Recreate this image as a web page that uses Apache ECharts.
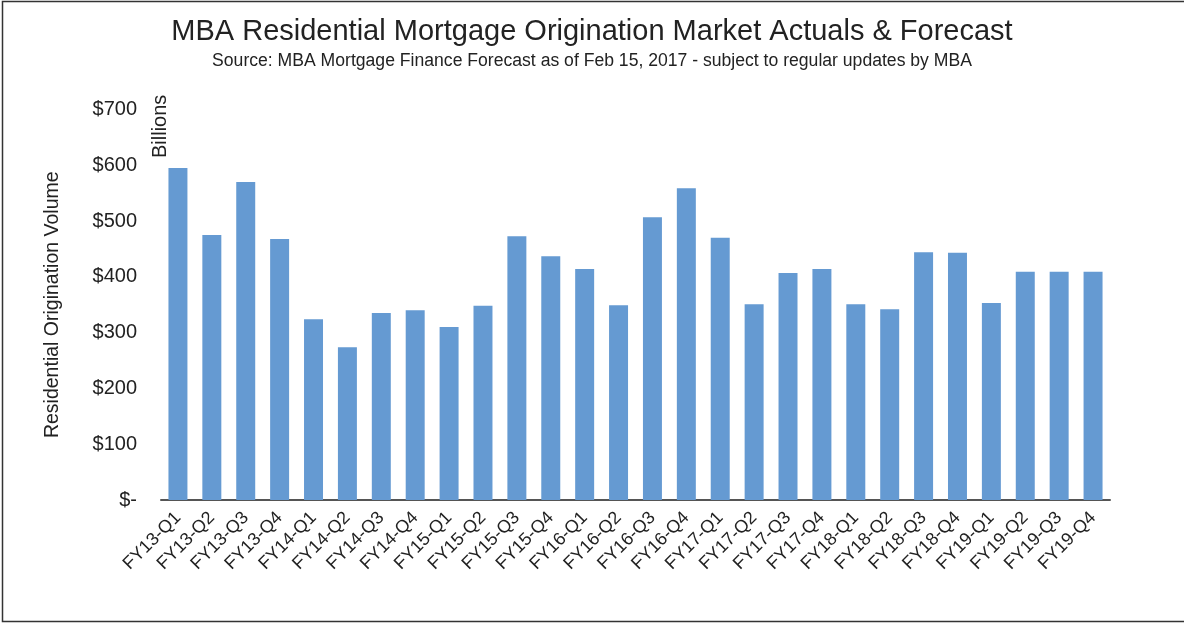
<!DOCTYPE html>
<html><head><meta charset="utf-8">
<script src="https://cdn.jsdelivr.net/npm/echarts@6/dist/echarts.min.js"></script>
<style>html,body{margin:0;padding:0;background:#fff}#c{width:1184px;height:624px}</style>
</head><body><div id="c"></div>
<script>
const categories = ['FY13-Q1','FY13-Q2','FY13-Q3','FY13-Q4','FY14-Q1','FY14-Q2','FY14-Q3','FY14-Q4',
  'FY15-Q1','FY15-Q2','FY15-Q3','FY15-Q4','FY16-Q1','FY16-Q2','FY16-Q3','FY16-Q4',
  'FY17-Q1','FY17-Q2','FY17-Q3','FY17-Q4','FY18-Q1','FY18-Q2','FY18-Q3','FY18-Q4',
  'FY19-Q1','FY19-Q2','FY19-Q3','FY19-Q4'];
const volumes = [595,475,570,468,324,274,335,340,310,348,473,437,414,349,507,559,470,351,407,414,351,342,444,443,353,409,409,409];
const yTicks = {min:0, max:700, interval:100};
const titleText = 'MBA Residential Mortgage Origination Market Actuals & Forecast';
const subtitleText = 'Source: MBA Mortgage Finance Forecast as of Feb 15, 2017 - subject to regular updates by MBA';

const font = '"Liberation Sans", Arial, sans-serif';
const chart = echarts.init(document.getElementById('c'));
chart.setOption({
  animation:false,
  backgroundColor:'#fff',
  title:{text:titleText, subtext:subtitleText, left:'center', top:12, itemGap:6,
    textStyle:{fontFamily:font, fontSize:29, fontWeight:'normal', color:'#222'},
    subtextStyle:{fontFamily:font, fontSize:17.6, color:'#222'}},
  grid:{left:161, right:74, top:109.5, bottom:124},
  xAxis:{type:'category', data:categories,
    axisLine:{lineStyle:{color:'#555', width:2}}, axisTick:{show:false},
    axisLabel:{rotate:45, interval:0, fontFamily:font, fontSize:18, color:'#222', margin:15}},
  yAxis:{type:'value', min:yTicks.min, max:yTicks.max, interval:yTicks.interval,
    name:'Residential Origination Volume', nameLocation:'middle', nameGap:98, nameRotate:90,
    nameTextStyle:{fontFamily:font, fontSize:19.5, color:'#222'},
    splitLine:{show:false}, axisLine:{show:false}, axisTick:{show:false},
    axisLabel:{fontFamily:font, fontSize:20, color:'#222', margin:24,
      formatter:v=> v===0 ? '$-' : '$'+v}},
  series:[{type:'bar', data:volumes, barCategoryGap:'44%', itemStyle:{color:'#659AD2'}}],
  graphic:[
    {type:'rect', shape:{x:2.5,y:1.5,width:1190,height:620}, style:{fill:'none', stroke:'#333', lineWidth:1.5}, silent:true},
    {type:'text', x:150, y:158, rotation:Math.PI/2, style:{text:'Billions', font:'20px '+font, fill:'#222', textAlign:'left', textVerticalAlign:'top'}}
  ]
});
</script></body></html>
